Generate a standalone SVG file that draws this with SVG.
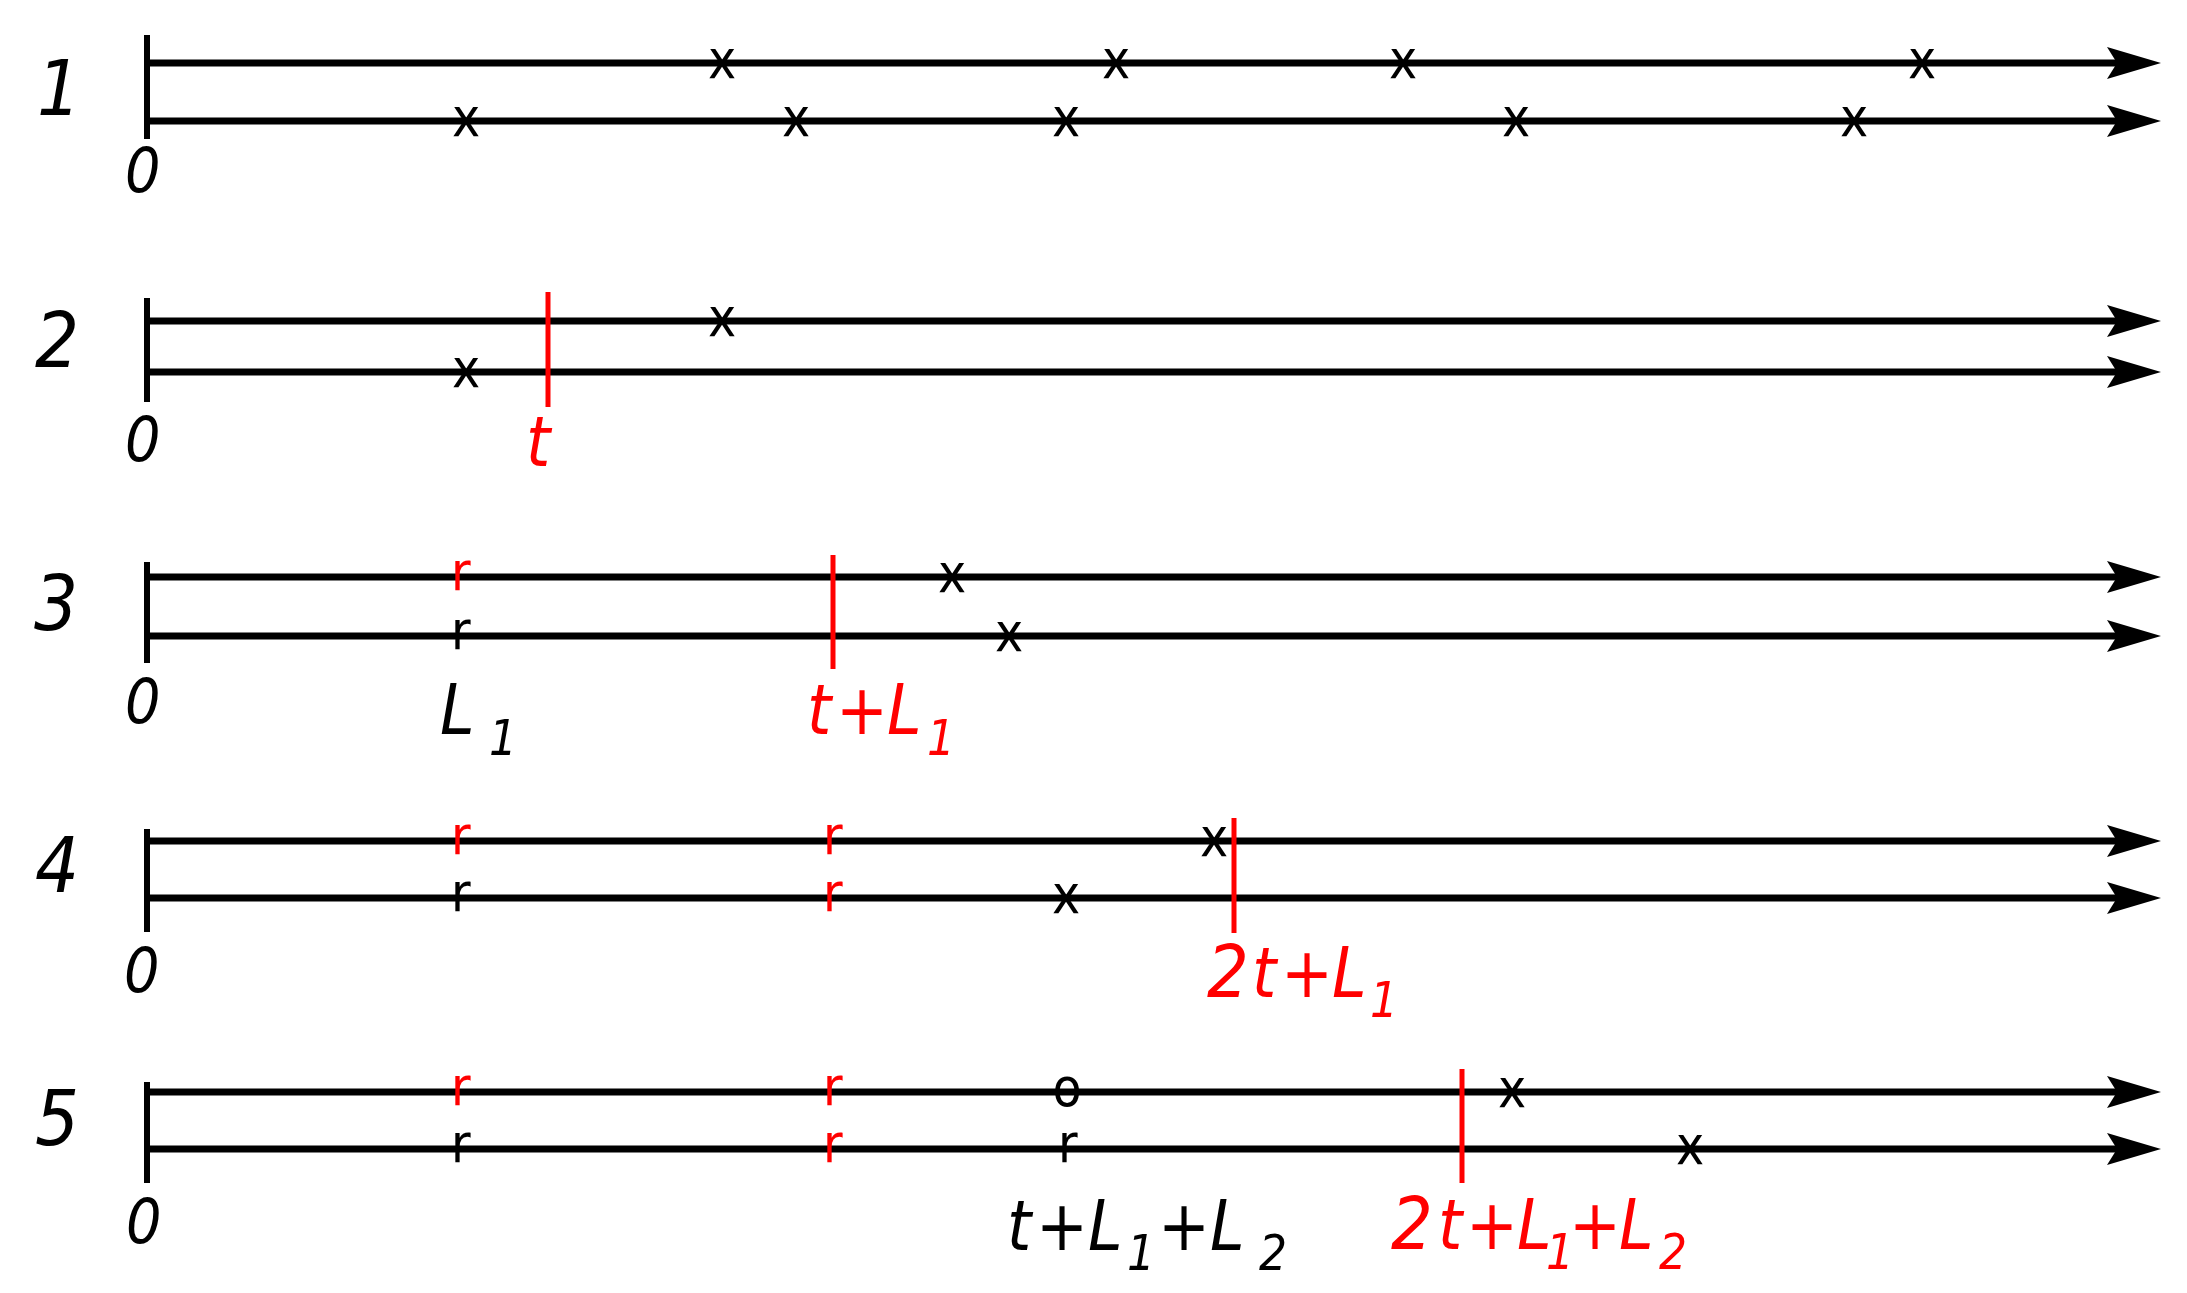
<svg xmlns="http://www.w3.org/2000/svg" width="2187" height="1293" viewBox="0 0 2187 1293">
<defs>
<style>
.bg{fill:#fff}
.ax{stroke:#000;stroke-width:6;fill:none}
.tl{stroke:#000;stroke-width:7;fill:none;marker-end:url(#ah)}
.rl{stroke:#f00;stroke-width:5;fill:none}
.f{font-family:"DejaVu Sans Condensed","DejaVu Sans",sans-serif;font-stretch:condensed}
.num{font-style:italic;font-size:77px;fill:#000}
.zero{font-style:italic;font-size:62px;fill:#000}
.ex{font-style:italic;font-size:69px}
.big{font-size:73px}
.sub{font-size:49px}
.mk{font-style:normal;font-size:53px;fill:#000}
.x{text-anchor:middle}
.red{fill:#f00}
.blk{fill:#000}
</style>
<marker id="ah" markerUnits="userSpaceOnUse" markerWidth="60" markerHeight="40" viewBox="0 0 60 40" refX="10" refY="20" orient="auto">
<path d="M0,4 L54,20 L0,36 L10,20 Z" fill="#000"/>
</marker>
</defs>
<rect class="bg" x="0" y="0" width="2187" height="1293"/>

<g id="row1">
<text class="f num" x="37" y="115">1</text>
<text class="f zero" x="125" y="192">0</text>
<line class="ax" x1="147" y1="35" x2="147" y2="139"/>
<g id="row1-lines">
<line class="tl" x1="147" y1="63" x2="2117" y2="63"/>
<line class="tl" x1="147" y1="121" x2="2117" y2="121"/>
</g>
<g class="f mk x">
<text x="722" y="77.5">x</text><text x="1116" y="77.5">x</text><text x="1403" y="77.5">x</text><text x="1922" y="77.5">x</text>
<text x="466" y="135.5">x</text><text x="796" y="135.5">x</text><text x="1066" y="135.5">x</text><text x="1516" y="135.5">x</text><text x="1854" y="135.5">x</text>
</g>
</g>

<g id="row2">
<text class="f num" x="35" y="367">2</text>
<text class="f zero" x="125" y="461">0</text>
<line class="ax" x1="147" y1="298" x2="147" y2="402"/>
<g id="row2-lines">
<line class="tl" x1="147" y1="321" x2="2117" y2="321"/>
<line class="tl" x1="147" y1="372" x2="2117" y2="372"/>
</g>
<g class="f mk x">
<text x="722" y="335.5">x</text>
<text x="466" y="386.5">x</text>
</g>
<line class="rl" x1="548" y1="292" x2="548" y2="407"/>
<text class="f ex red" x="526" y="466">t</text>
</g>

<g id="row3">
<text class="f num" x="34" y="630">3</text>
<text class="f zero" x="125" y="723">0</text>
<line class="ax" x1="147" y1="562" x2="147" y2="663"/>
<g id="row3-lines">
<line class="tl" x1="147" y1="577" x2="2117" y2="577"/>
<line class="tl" x1="147" y1="636" x2="2117" y2="636"/>
</g>
<text class="f mk red" x="451" y="590">r</text>
<text class="f mk" x="451" y="649">r</text>
<g class="f mk x">
<text x="952" y="591.5">x</text>
<text x="1009" y="650.5">x</text>
</g>
<line class="rl" x1="833" y1="555" x2="833" y2="669"/>
<text class="f ex blk" y="734"><tspan x="440">L</tspan><tspan class="sub" x="489" y="755">1</tspan></text>
<text class="f ex red" y="734"><tspan x="807">t</tspan><tspan x="836">+</tspan><tspan x="887">L</tspan><tspan class="sub" x="927" y="755">1</tspan></text>
</g>

<g id="row4">
<text class="f num" x="35" y="892">4</text>
<text class="f zero" x="124" y="992">0</text>
<line class="ax" x1="147" y1="829" x2="147" y2="932"/>
<g id="row4-lines">
<line class="tl" x1="147" y1="841" x2="2117" y2="841"/>
<line class="tl" x1="147" y1="898" x2="2117" y2="898"/>
</g>
<text class="f mk red" x="451" y="854">r</text>
<text class="f mk red" x="823" y="854">r</text>
<text class="f mk" x="451" y="911">r</text>
<text class="f mk red" x="823" y="911">r</text>
<g class="f mk x">
<text x="1214" y="855.5">x</text>
<text x="1066" y="912.5">x</text>
</g>
<line class="rl" x1="1234" y1="818" x2="1234" y2="933"/>
<text class="f ex red" y="997"><tspan class="big" x="1207">2</tspan><tspan x="1252">t</tspan><tspan x="1281">+</tspan><tspan x="1332">L</tspan><tspan class="sub" x="1370" y="1017">1</tspan></text>
</g>

<g id="row5">
<text class="f num" x="35" y="1145">5</text>
<text class="f zero" x="126" y="1243">0</text>
<line class="ax" x1="147" y1="1082" x2="147" y2="1183"/>
<g id="row5-lines">
<line class="tl" x1="147" y1="1092" x2="2117" y2="1092"/>
<line class="tl" x1="147" y1="1149" x2="2117" y2="1149"/>
</g>
<text class="f mk red" x="451" y="1105">r</text>
<text class="f mk red" x="823" y="1105">r</text>
<text class="f mk x" x="1067" y="1106">o</text>
<text class="f mk" x="451" y="1162">r</text>
<text class="f mk red" x="823" y="1162">r</text>
<text class="f mk" x="1058" y="1162">r</text>
<g class="f mk x">
<text x="1512" y="1106.5">x</text>
<text x="1690" y="1163.5">x</text>
</g>
<line class="rl" x1="1462" y1="1069" x2="1462" y2="1183"/>
<text class="f ex blk" y="1250"><tspan x="1007">t</tspan><tspan x="1036">+</tspan><tspan x="1088">L</tspan><tspan class="sub" x="1127" y="1270">1</tspan><tspan x="1158" y="1250">+</tspan><tspan x="1210">L</tspan><tspan class="sub" x="1259" y="1270">2</tspan></text>
<text class="f ex red" y="1249"><tspan class="big" x="1391">2</tspan><tspan x="1438">t</tspan><tspan x="1466">+</tspan><tspan x="1517">L</tspan><tspan class="sub" x="1546" y="1269">1</tspan><tspan x="1569" y="1249">+</tspan><tspan x="1619">L</tspan><tspan class="sub" x="1659" y="1269">2</tspan></text>
</g>
</svg>
